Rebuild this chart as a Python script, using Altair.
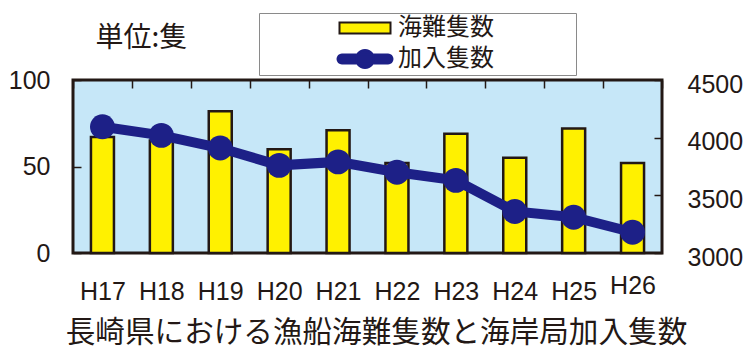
import math
import altair as alt
import pandas as pd

# Fiscal years (Heisei era)
years = ["H17", "H18", "H19", "H20", "H21", "H22", "H23", "H24", "H25", "H26"]
# Fishing vessels involved in marine accidents (left axis)
accidents = [67, 65, 82, 60, 71, 52, 69, 55, 72, 52]
# Vessels subscribed to the coast station (right axis)
members = [4095, 4020, 3910, 3760, 3790, 3700, 3630, 3360, 3310, 3180]

series_names = ["海難隻数", "加入隻数"]
left_ticks = [0, 50, 100]
right_ticks = [3000, 3500, 4000, 4500]

INK = "#231815"
YELLOW = "#FFF100"
NAVY = "#1D2087"
SKY = "#C6E7F8"
FRAME_GREY = "#8a8a8a"

JP = "Noto Sans CJK JP"
NUM = "Liberation Sans"

bar_df = pd.DataFrame({"year": years, "value": accidents, "series": series_names[0]})
line_df = pd.DataFrame({"year": years, "value": members, "series": series_names[1]})
key_df = pd.DataFrame({"series": series_names})


def _pt(x, y):
    return f"{x:.3f},{y:.3f}"


def capsule_path(half_len, half_thick, steps=8):
    """Horizontal bar with round caps, as a closed polygon (clockwise)."""
    core = half_len - half_thick
    pts = [(-core, -half_thick), (core, -half_thick)]
    for i in range(1, steps):
        a = -math.pi / 2 + math.pi * i / steps
        pts.append((core + half_thick * math.cos(a), half_thick * math.sin(a)))
    pts += [(core, half_thick), (-core, half_thick)]
    for i in range(1, steps):
        a = math.pi / 2 + math.pi * i / steps
        pts.append((-core + half_thick * math.cos(a), half_thick * math.sin(a)))
    return "M" + "L".join(_pt(x, y) for x, y in pts) + "Z"


def disc_path(r, steps=28):
    pts = [(r * math.cos(2 * math.pi * i / steps), r * math.sin(2 * math.pi * i / steps)) for i in range(steps)]
    return "M" + "L".join(_pt(x, y) for x, y in pts) + "Z"


# legend glyphs (unit = half the nominal symbol width)
BAR_SYMBOL = "M-2.55,-0.55H2.55V0.55H-2.55Z"
LINE_SYMBOL = capsule_path(2.75, 0.45) + disc_path(0.9)

fill_scale = alt.Scale(domain=series_names, range=[YELLOW, NAVY])
stroke_scale = alt.Scale(domain=series_names, range=[INK, NAVY])
shape_scale = alt.Scale(domain=series_names, range=[BAR_SYMBOL, LINE_SYMBOL])

key_legend = alt.Legend(
    title="凡例",
    titleOrient="right",
    titleColor="white",
    titleFontSize=10,
    titlePadding=59,
    orient="none",
    legendX=186,
    legendY=-67,
    direction="vertical",
    symbolSize=400,
    symbolStrokeWidth=2,
    symbolOpacity=1,
    rowPadding=6,
    padding=3,
    symbolOffset=91,
    labelOffset=21,
    labelFont=JP,
    labelFontSize=24,
    labelColor=INK,
    fillColor="white",
    strokeColor=FRAME_GREY,
)

x_enc = alt.X(
    "year:N",
    sort=years,
    scale=alt.Scale(paddingInner=0, paddingOuter=0),
    axis=alt.Axis(
        title=None,
        domain=False,
        ticks=False,
        tickSize=0,
        labelAngle=0,
        labelFont=NUM,
        labelFontSize=25,
        labelColor=INK,
        labelBaseline="top",
        labelOverlap=False,
        labelPadding={"condition": {"test": "datum.value === 'H26'", "value": 20}, "value": 26},
        grid=True,
        gridColor=INK,
        gridWidth=1.5,
        gridDash=[8, 400],
        tickBand="extent",
    ),
)

y_left = alt.Y(
    "value:Q",
    scale=alt.Scale(domain=[0, 100], nice=False, zero=True),
    axis=alt.Axis(
        values=left_ticks,
        orient="left",
        format="d",
        title="単位:隻",
        titleAngle=0,
        titleX=22,
        titleY=-42,
        titleAlign="left",
        titleBaseline="middle",
        titleFont=JP,
        titleFontSize=28,
        titleFontWeight="normal",
        titleColor=INK,
        labelFont=NUM,
        labelFontSize=25,
        labelColor=INK,
        labelPadding=23,
        domain=False,
        ticks=False,
        tickSize=0,
        grid=True,
        gridColor=INK,
        gridWidth=1.5,
        gridDash=[8, 800],
    ),
)

y_right = alt.Y(
    "value:Q",
    scale=alt.Scale(domain=[3000, 4500], nice=False, zero=False),
    axis=alt.Axis(
        values=right_ticks,
        orient="right",
        format="d",
        title=None,
        labelFont=NUM,
        labelFontSize=25,
        labelColor=INK,
        labelPadding=25,
        labelOffset=4,
        domain=False,
        ticks=False,
        tickSize=0,
        grid=True,
        gridColor=INK,
        gridWidth=1.5,
        gridDash=[8, 800],
    ),
)

# invisible carrier for the combined legend
key = alt.Chart(key_df).mark_point(filled=True, opacity=0).encode(
    fill=alt.Fill("series:N", scale=fill_scale, legend=key_legend),
    stroke=alt.Stroke("series:N", scale=stroke_scale, legend=key_legend),
    shape=alt.Shape("series:N", scale=shape_scale, legend=key_legend),
)

bars = alt.Chart(bar_df).mark_bar(size=23, strokeWidth=2.5).encode(
    x=x_enc,
    y=y_left,
    fill=alt.Fill("series:N", scale=fill_scale),
    stroke=alt.Stroke("series:N", scale=stroke_scale),
)

line = alt.Chart(line_df).mark_line(strokeWidth=10).encode(
    x=x_enc,
    y=y_right,
    stroke=alt.Stroke("series:N", scale=stroke_scale),
)

dots = alt.Chart(line_df).mark_circle(size=620, opacity=1, color=NAVY).encode(
    x=x_enc,
    y=y_right,
)

chart = (
    alt.layer(key, bars, alt.layer(line, dots))
    .resolve_scale(y="independent")
    .properties(
        width=589,
        height=173,
        autosize=alt.AutoSizeParams(type="none"),
        padding={"left": 73, "top": 80, "right": 84, "bottom": 98},
        background="white",
        title=alt.Title(
            "長崎県における漁船海難隻数と海岸局加入隻数",
            orient="bottom",
            anchor="middle",
            font=JP,
            fontSize=29.6,
            fontWeight="normal",
            color=INK,
            offset=15,
            dx=9,
        ),
    )
    .configure_view(stroke=INK, strokeWidth=3, fill=SKY)
)

chart.save("out.html", embed_options={"renderer": "svg", "actions": False})
